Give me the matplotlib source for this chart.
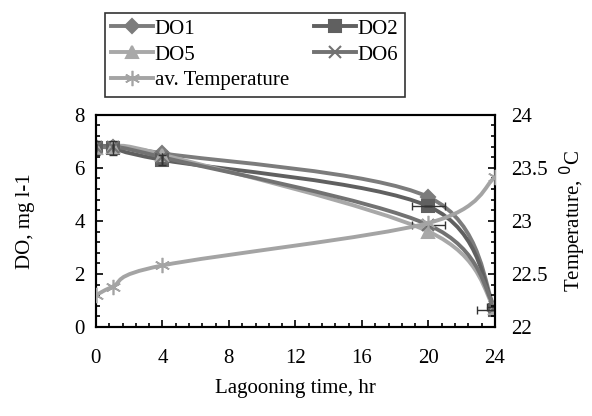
import numpy as np
import matplotlib
matplotlib.use('Agg')
import matplotlib.pyplot as plt
from matplotlib.path import Path
from matplotlib.patches import PathPatch
from matplotlib.lines import Line2D
from matplotlib.ticker import MultipleLocator

plt.rcParams['font.family'] = ['Liberation Serif', 'DejaVu Serif']
plt.rcParams['font.size'] = 15

hours = [0, 1, 4, 20, 24]
do1 = [6.8, 6.8, 6.55, 4.9, 0.7]
do2 = [6.75, 6.75, 6.3, 4.55, 0.65]
do5 = [6.75, 6.8, 6.5, 3.6, 0.7]
do6 = [6.8, 6.8, 6.4, 3.85, 0.75]
temp = [22.3, 22.38, 22.58, 22.98, 23.41]

do2_yerr = [0.25, 0.25, 0.2, 0.0, 0.0]
do2_xerr = [0, 0, 0, 1.0, 1.1]
do6_xerr = [0, 0, 0, 1.0, 0.5]

def smooth_path(x, y):
    # excel-like smoothed line: catmull-rom segments as cubic beziers
    pts = np.column_stack([x, y]).astype(float)
    n = len(pts)
    verts = [pts[0]]
    codes = [Path.MOVETO]
    for i in range(n - 1):
        p0 = pts[max(i - 1, 0)]
        p1 = pts[i]
        p2 = pts[i + 1]
        p3 = pts[min(i + 2, n - 1)]
        c1 = p1 + (p2 - p0) / 6.0
        c2 = p2 - (p3 - p1) / 6.0
        verts += [c1, c2, p2]
        codes += [Path.CURVE4] * 3
    return Path(verts, codes)

fig = plt.figure(figsize=(5.92, 4.16), dpi=100)
ax = fig.add_axes([0.162, 0.214, 0.674, 0.510])
ax2 = ax.twinx()

lw = 2.8
series = [
    ('DO1', do1, '#7c7c7c', 'D', 7),
    ('DO2', do2, '#606060', 's', 8),
    ('DO5', do5, '#a8a8a8', '^', 9),
    ('DO6', do6, '#727272', 'x', 9),
]
handles = {}
for name, vals, col, mk, ms in series:
    ax.add_patch(PathPatch(smooth_path(hours, vals), facecolor='none',
                           edgecolor=col, lw=lw, zorder=3))
    ax.plot(hours, vals, linestyle='none', marker=mk, ms=ms, color=col,
            mec=col, mew=1.5, zorder=4)
    handles[name] = Line2D([], [], color=col, lw=lw, marker=mk, ms=ms, mew=1.5)

ax.errorbar(hours, do2, yerr=do2_yerr, xerr=do2_xerr, fmt='none',
            ecolor='#333333', elinewidth=1, capsize=3, zorder=5)
ax.errorbar(hours, do6, xerr=do6_xerr, fmt='none',
            ecolor='#333333', elinewidth=1, capsize=3, zorder=5)

tcol = '#a4a4a4'
ax2.add_patch(PathPatch(smooth_path(hours, temp), facecolor='none',
                        edgecolor=tcol, lw=lw, zorder=3))
ax2.plot(hours, temp, linestyle='none', marker=(6, 2, 0), ms=11, color=tcol,
         mew=1.2, zorder=4)
handles['av. Temperature'] = Line2D([], [], color=tcol, lw=lw,
                                    marker=(6, 2, 0), ms=11, mew=1.2)

ax.set_xlim(0, 24)
ax.set_ylim(0, 8)
ax2.set_ylim(22, 24)
ax.xaxis.set_major_locator(MultipleLocator(4))
ax.xaxis.set_minor_locator(MultipleLocator(0.8))
ax.yaxis.set_major_locator(MultipleLocator(2))
ax.yaxis.set_minor_locator(MultipleLocator(0.4))
ax2.yaxis.set_major_locator(MultipleLocator(0.5))
ax2.yaxis.set_minor_locator(MultipleLocator(0.1))

ax.tick_params(which='both', direction='in', top=False, right=False, width=1.2)
ax.tick_params(which='major', length=5)
ax.tick_params(which='minor', length=3)
ax.tick_params(axis='x', pad=16)
ax.tick_params(axis='y', pad=8)
ax2.tick_params(which='both', direction='in', width=1.2, pad=12)
ax2.tick_params(which='major', length=5)
ax2.tick_params(which='minor', length=3)
ax2.yaxis.set_major_formatter(plt.FuncFormatter(lambda v, p: f'{v:g}'))

for a in (ax, ax2):
    for s in a.spines.values():
        s.set_linewidth(1.5)

ax.set_xlabel('Lagooning time, hr', labelpad=8)
ax.set_ylabel('DO, mg l-1', labelpad=28)
ax2.set_ylabel('Temperature, $^{0}$C', rotation=90, labelpad=7)

# legend fills by column, so order gives rows DO1/DO2, DO5/DO6, av. Temperature
order = ['DO1', 'DO5', 'av. Temperature', 'DO2', 'DO6']
leg = fig.legend([handles[k] for k in order], order,
                 loc='upper left', bbox_to_anchor=(0.177, 0.969), ncol=2,
                 frameon=True, fancybox=False, edgecolor='black',
                 handlelength=2.0, handletextpad=0.1, columnspacing=1.2,
                 labelspacing=0.3, borderpad=0.3, borderaxespad=0)
leg.get_frame().set_linewidth(1.2)

fig.savefig('out.png', dpi=100)
